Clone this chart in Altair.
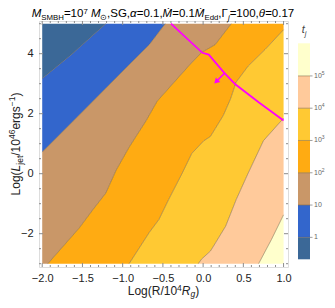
import altair as alt
import numpy as np
import pandas as pd

FONT = "Liberation Sans"

# ---------------- values ----------------
# contour levels of t_j (log10) and colour bands between them
t_levels_log = [0, 1, 2, 3, 4, 5]
cbar_label_base = ["1", "10", "10", "10", "10", "10"]
cbar_label_exp = ["", "", "2", "3", "4", "5"]
cbar_limits_log = [-0.68, 6.01]
band_names = ["b0", "b1", "b2", "b3", "b4", "b5", "b6"]
band_colors = ["#3b6897", "#3366cc", "#c99768", "#ffab12", "#ffc933", "#ffca9b", "#ffffcc"]

# data extent of the plot
x_data = [-2.0, 1.0]
y_data = [-3.0, 5.0]

# contour lines: knots (x = Log R, y = Log L_jet)
c1_x = [-2.00, -1.62, -1.21]
c1_y = [3.17, 4.01, 5.00]
c10_x = [-2.00, -1.49, -0.92, -0.67, -0.47]
c10_y = [0.72, 2.09, 3.63, 4.30, 5.00]
c100_x = [-1.93, -1.54, -1.37, -1.21, -1.08, -0.92, -0.71, -0.57, -0.36, -0.18, -0.02, 0.15, 0.35]
c100_y = [-3.00, -1.81, -1.20, -0.65, 0.12, 0.88, 1.76, 2.42, 3.05, 3.59, 4.04, 4.30, 5.00]
c1e3_x = [-0.92, -0.67, -0.55, -0.43, -0.26, -0.14, 0.01, 0.09, 0.15, 0.25, 0.34, 0.41, 0.56, 0.77, 1.00]
c1e3_y = [-3.00, -1.96, -1.53, -0.87, 0.02, 0.68, 1.10, 1.24, 1.50, 1.94, 2.49, 3.05, 3.59, 4.14, 4.80]
c1e4_x = [-0.06, -0.02, 0.09, 0.13, 0.28, 0.41, 0.56, 0.75, 1.00]
c1e4_y = [-3.00, -2.85, -2.58, -2.41, -1.75, -0.87, 0.02, 1.10, 1.85]
c1e5_x = [0.69, 0.85, 1.00]
c1e5_y = [-3.00, -2.19, -1.37]

# magenta curve and arrow
mag_x = [-0.40, -0.01, 0.07, 0.26, 0.40, 0.69, 1.00]
mag_y = [5.00, 4.03, 3.97, 3.37, 2.98, 2.38, 1.77]
arrow_x = [0.27, 0.17]
arrow_y = [3.36, 3.09]

# axes
x_ticks = [-2.0, -1.5, -1.0, -0.5, 0.0, 0.5, 1.0]
x_minor = [-1.9, -1.8, -1.7, -1.6, -1.4, -1.3, -1.2, -1.1, -0.9, -0.8, -0.7, -0.6,
           -0.4, -0.3, -0.2, -0.1, 0.1, 0.2, 0.3, 0.4, 0.6, 0.7, 0.8, 0.9]
y_ticks = [-2, 0, 2, 4]
y_minor = [-3, -2.5, -1.5, -1, -0.5, 0.5, 1, 1.5, 2.5, 3, 3.5, 4.5, 5]

# ---------------- layout / style ----------------
W, H = 249, 246
PAD = {"left": 31, "top": 13, "right": 319 - 31 - 249, "bottom": 292 - 13 - 246}
x_dom = [-2.04, 1.055]
y_dom = [-3.11, 5.09]
FRAME = "#8c8c8c"
CB_X0, CB_X1 = 259, 271
CB_RANGE = [238.3, 22.3]

xs = alt.Scale(domain=x_dom, nice=False, zero=False)
ys_ = alt.Scale(domain=y_dom, nice=False, zero=False)
xaxis = alt.Axis(values=x_ticks, format=".1f", ticks=False, domain=False, grid=False,
                 labelPadding=5, title=None, labelFontSize=11, labelFont=FONT, labelColor="#222")
yaxis = alt.Axis(values=y_ticks, format="d", ticks=False, domain=False, grid=False,
                 labelPadding=6, title=None, labelFontSize=11, labelFont=FONT, labelColor="#222")

# ---------- band polygons (vertical ranged areas between contour curves) ----------
contours = [(c1_x, c1_y), (c10_x, c10_y), (c100_x, c100_y),
            (c1e3_x, c1e3_y), (c1e4_x, c1e4_y), (c1e5_x, c1e5_y)]
xgrid = np.unique(np.concatenate([np.array(c[0]) for c in contours] + [np.array(x_data)]))
xgrid = xgrid[(xgrid >= x_data[0]) & (xgrid <= x_data[1])]
curves = [np.full(len(xgrid), y_data[1])]
for cx, cy in contours:
    curves.append(np.clip(np.interp(xgrid, cx, cy, left=y_data[0], right=y_data[1]),
                          y_data[0], y_data[1]))
curves.append(np.full(len(xgrid), y_data[0]))
rows = []
for i, name in enumerate(band_names):
    for k, xv in enumerate(xgrid):
        rows.append({"band": name, "x": float(xv), "lo": float(curves[i + 1][k]), "hi": float(curves[i][k])})
band_df = pd.DataFrame(rows)

color_scale = alt.Scale(domain=band_names, range=band_colors)

bands = alt.Chart(band_df).mark_area(opacity=1).encode(
    x=alt.X("x:Q", scale=xs, axis=xaxis),
    y=alt.Y("lo:Q", scale=ys_, axis=yaxis, stack=None),
    y2="hi:Q",
    color=alt.Color("band:N", scale=color_scale, legend=None),
)

line_rows = []
for name, (cx, cy) in zip(["c1", "c10", "c100", "c1e3", "c1e4", "c1e5"], contours):
    for k, (xv, yv) in enumerate(zip(cx, cy)):
        line_rows.append({"c": name, "x": xv, "y": yv, "i": k})
lines = alt.Chart(pd.DataFrame(line_rows)).mark_line(
    color="#6b5634", strokeWidth=0.8, opacity=0.6).encode(
    x=alt.X("x:Q", scale=xs, axis=xaxis), y=alt.Y("y:Q", scale=ys_, axis=yaxis),
    detail="c:N", order="i:Q")

mag = alt.Chart(pd.DataFrame({"x": mag_x, "y": mag_y, "i": range(len(mag_x))})).mark_line(
    color="#ff00ff", strokeWidth=1.8).encode(
    x=alt.X("x:Q", scale=xs, axis=xaxis), y=alt.Y("y:Q", scale=ys_, axis=yaxis), order="i:Q")
arr = alt.Chart(pd.DataFrame({"x": arrow_x, "y": arrow_y, "i": [0, 1]})).mark_line(
    color="#ff00ff", strokeWidth=1.5).encode(
    x=alt.X("x:Q", scale=xs, axis=xaxis), y=alt.Y("y:Q", scale=ys_, axis=yaxis), order="i:Q")
head = alt.Chart(pd.DataFrame({"x": arrow_x[1:], "y": arrow_y[1:]})).mark_point(
    shape="triangle", filled=True, size=40, angle=225, color="#ff00ff", opacity=1).encode(
    x=alt.X("x:Q", scale=xs, axis=xaxis), y=alt.Y("y:Q", scale=ys_, axis=yaxis))


def xtick(vals, y0, y1):
    return alt.Chart(pd.DataFrame({"v": vals})).mark_rule(color=FRAME, strokeWidth=1).encode(
        x=alt.X("v:Q", scale=xs, axis=xaxis), y=alt.value(y0), y2=alt.value(y1))


def ytick(vals, x0, x1):
    return alt.Chart(pd.DataFrame({"v": vals})).mark_rule(color=FRAME, strokeWidth=1).encode(
        y=alt.Y("v:Q", scale=ys_, axis=yaxis), x=alt.value(x0), x2=alt.value(x1))


ticks = [xtick(x_ticks, H, H - 4), xtick(x_minor, H, H - 2), xtick(x_ticks, 0, 4), xtick(x_minor, 0, 2),
         ytick(y_ticks, 0, 4), ytick(y_minor, 0, 2), ytick(y_ticks, W, W - 4), ytick(y_minor, W, W - 2)]

main = alt.layer(bands, lines, mag, arr, head, *ticks)

# ---------- colour bar ----------
cb_lo = [cbar_limits_log[0]] + t_levels_log
cb_hi = t_levels_log + [cbar_limits_log[1]]
cb_df = pd.DataFrame({"band": band_names, "lo": cb_lo, "hi": cb_hi})
cbs = alt.Scale(domain=cbar_limits_log, range=CB_RANGE, nice=False, zero=False)
lev_df = pd.DataFrame({"lev": t_levels_log, "base": cbar_label_base, "exp": cbar_label_exp})
cb_rect = alt.Chart(cb_df).mark_rect().encode(
    y=alt.Y("lo:Q", scale=cbs, axis=None), y2="hi:Q",
    x=alt.value(CB_X0), x2=alt.value(CB_X1),
    color=alt.Color("band:N", scale=color_scale, legend=None))
cb_sep = alt.Chart(lev_df).mark_rule(color="#6b5634", opacity=0.6, strokeWidth=0.8).encode(
    y=alt.Y("lev:Q", scale=cbs, axis=None), x=alt.value(CB_X0), x2=alt.value(CB_X1))
cb_tick = alt.Chart(lev_df).mark_rule(color="#888", strokeWidth=0.8).encode(
    y=alt.Y("lev:Q", scale=cbs, axis=None), x=alt.value(CB_X1), x2=alt.value(CB_X1 + 2.5))
cb_lab = alt.Chart(lev_df).mark_text(align="left", baseline="middle", fontSize=7, font=FONT,
                                     color="#666").encode(
    y=alt.Y("lev:Q", scale=cbs, axis=None), x=alt.value(CB_X1 + 4), text="base:N")
cb_exp = alt.Chart(lev_df).transform_filter("datum.exp != ''").mark_text(
    align="left", baseline="middle", fontSize=5, font=FONT, color="#666", dx=7.8, dy=-3).encode(
    y=alt.Y("lev:Q", scale=cbs, axis=None), x=alt.value(CB_X1 + 4), text="exp:N")
colorbar = alt.layer(cb_rect, cb_sep, cb_tick, cb_lab, cb_exp)

# ---------- rich text (titles) ----------
CW = {' ': 278, '(': 333, ')': 333, ',': 278, '.': 278, '/': 278, '=': 584, '−': 584, '-': 333,
      'α': 578, 'θ': 556, 'Γ': 556, 'Ṁ': 833, '⊙': 838}
for d in "0123456789":
    CW[d] = 556
CW.update(dict(A=667, B=667, C=722, D=722, E=667, F=611, G=778, H=722, I=278, J=500, K=667, L=556,
               M=833, N=722, O=778, P=667, Q=778, R=722, S=667, T=611, U=722, V=667, W=944, X=667,
               Y=667, Z=611))
CW.update(dict(a=556, b=556, c=500, d=556, e=556, f=278, g=556, h=556, i=222, j=222, k=500, l=222,
               m=833, n=556, o=556, p=556, q=556, r=333, s=500, t=278, u=556, v=500, w=722, x=500,
               y=500, z=500))


def tw(s, size):
    return sum(CW.get(ch, 556) for ch in s) * size / 1000.0


def rich(segs, center, baseline, main, small, color, vertical=False, sub=0.3, sup=-0.36):
    out = []
    sizes = [main if kind == "n" else small for _, kind, _ in segs]
    widths = [tw(t, s) for (t, _, _), s in zip(segs, sizes)]
    total = sum(widths)
    pos = 0.0
    for (t, kind, it), s, w in zip(segs, sizes, widths):
        shift = {"n": 0.0, "sub": sub * main, "sup": sup * main}[kind]
        if vertical:
            out.append({"text": t, "px": baseline + shift, "py": center + total / 2 - pos, "size": s,
                        "it": it, "ang": 270, "col": color})
        else:
            out.append({"text": t, "px": center - total / 2 + pos, "py": baseline + shift, "size": s,
                        "it": it, "ang": 0, "col": color})
        pos += w
    return out


title_segs = [("M", "n", 1), ("SMBH", "sub", 0), ("=10", "n", 0), ("7", "sup", 0), (" ", "n", 0),
              ("M", "n", 1), ("⊙", "sub", 0), (",SG,", "n", 0), ("α", "n", 1), ("=0.1,", "n", 0),
              ("Ṁ", "n", 1), ("=0.1", "n", 0), ("Ṁ", "n", 1), ("Edd", "sub", 0), (",Γ", "n", 0),
              ("j", "sub", 1), ("=100,", "n", 0), ("θ", "n", 1), ("=0.17", "n", 0)]
ytitle_segs = [("Log(", "n", 0), ("L", "n", 1), ("jet", "sub", 0), ("/10", "n", 0), ("46", "sup", 0),
               ("ergs", "n", 0), ("−1", "sup", 0), (")", "n", 0)]
xtitle_segs = [("Log(R/10", "n", 0), ("4", "sup", 0), ("R", "n", 1), ("g", "sub", 1), (")", "n", 0)]
ctitle_segs = [("t", "n", 1), ("j", "sub", 1)]

txt = (rich(title_segs, 124, -4, 11.5, 7.8, "#000", sub=0.26, sup=-0.28)
       + rich(ytitle_segs, 123, -19.5, 12, 8.5, "#222", vertical=True)
       + rich(xtitle_segs, 124.5, 274, 12, 8.5, "#222", sub=0.2)
       + rich(ctitle_segs, 265, 12, 11, 7.5, "#444"))
txt_df = pd.DataFrame(txt)
text_layers = []
for (ang, it, col), g in txt_df.groupby(["ang", "it", "col"]):
    text_layers.append(
        alt.Chart(g).mark_text(align="left", baseline="alphabetic", angle=int(ang), font=FONT,
                               fontStyle="italic" if it else "normal", color=col).encode(
            x=alt.X("px:Q", scale=None, axis=None), y=alt.Y("py:Q", scale=None, axis=None),
            text="text:N", size=alt.Size("size:Q", scale=None, legend=None)))
texts = alt.layer(*text_layers)

chart = alt.layer(main, colorbar, texts).resolve_scale(
    x="independent", y="independent").properties(
    width=W, height=H, autosize="none", padding=PAD,
).configure_view(stroke=FRAME, strokeWidth=1).configure(background="white")

chart.save("out.html", embed_options={"renderer": "svg", "actions": False})
